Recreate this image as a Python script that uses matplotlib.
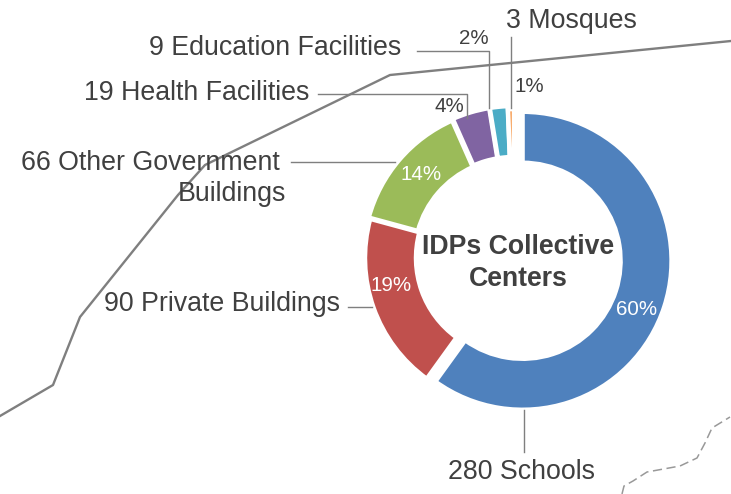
import matplotlib
matplotlib.use("Agg")
import matplotlib.pyplot as plt

categories = ["Schools", "Private Buildings", "Other Government\nBuildings", "Health Facilities", "Education Facilities", "Mosques"]
counts = [280, 90, 66, 19, 9, 3]
percent_labels = ["60%", "19%", "14%", "4%", "2%", "1%"]
colors = ["#4F81BD", "#C0504D", "#9BBB59", "#8064A2", "#4BACC6", "#F79646"]
explode = [9.0, 0.0, 2.0, 3.0, 3.0, 0.0]
title = "IDPs Collective\nCenters"

road_x = [0, 53, 80, 178, 205, 390, 731]
road_y = [416, 385, 317, 195, 165, 75, 41]
border_x = [622, 624, 633, 647, 680, 697, 705, 712, 730]
border_y = [494, 486, 481, 472, 466, 458, 443, 428, 417]

plt.rcParams["font.family"] = ["Liberation Sans", "DejaVu Sans"]
TXT = "#404040"
fig = plt.figure(figsize=(7.31, 4.94), dpi=100)
ax = fig.add_axes([0, 0, 1, 1])

ax.plot(road_x, road_y, color="#7F7F7F", lw=1.7, zorder=1)
ax.plot(border_x, border_y, color="#999999", lw=1.1, ls=(0, (6, 3)), zorder=1)

wedges, _ = ax.pie(counts, colors=colors, explode=explode, center=(514, 258), radius=149,
                   startangle=-90, counterclock=True, frame=True,
                   wedgeprops=dict(width=51, edgecolor="white", linewidth=3.2))
for w in wedges:
    w.set_zorder(2)
ax.set_aspect("auto")
ax.set_xlim(0, 731)
ax.set_ylim(494, 0)
ax.axis("off")

leaders = [
    ([524, 524], [410, 452]),
    ([348, 372], [307, 307]),
    ([291, 395], [162, 162]),
    ([318, 467, 467], [94, 94, 118]),
    ([417, 489, 489], [51, 51, 108]),
    ([511, 511], [37, 108]),
]
for lx, ly in leaders:
    ax.plot(lx, ly, color="#7F7F7F", lw=1.0, zorder=3)

outer_pos = [(522, 472, "center"), (340, 304, "right"), (280, 178, "right"),
             (309, 93, "right"), (401, 48, "right"), (506, 21, "left")]
for cat, n, (x, y, ha) in zip(categories, counts, outer_pos):
    if "\n" in cat:
        a, b = cat.split("\n")
        ax.text(x, 163, f"{n} {a}", ha="right", va="center", fontsize=19.3, color=TXT)
        ax.text(x + 6, 194, b, ha="right", va="center", fontsize=19.3, color=TXT)
    else:
        ax.text(x, y, f"{n} {cat}", ha=ha, va="center", fontsize=19.3, color=TXT)

pct_pos = [(637, 309, "white"), (391, 285, "white"), (421, 174, "white"),
           (449, 106, TXT), (474, 38, TXT), (529, 87, TXT)]
for s, (x, y, c) in zip(percent_labels, pct_pos):
    ax.text(x, y, s, ha="center", va="center", fontsize=14.8, color=c, zorder=4)

ax.text(518, 263, title, ha="center", va="center", fontsize=19.2, fontweight="bold",
        color=TXT, linespacing=1.3, zorder=4)
fig.savefig("out.png", dpi=100)
